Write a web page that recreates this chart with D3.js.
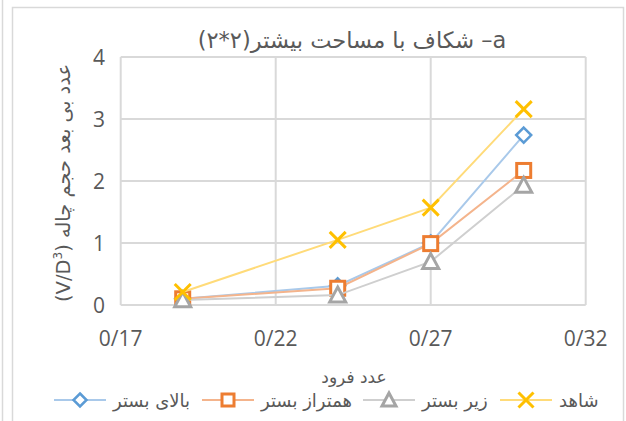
<!DOCTYPE html>
<html>
<head>
<meta charset="utf-8">
<script src="https://cdn.jsdelivr.net/npm/d3@7"></script>
<style>
  body { margin: 0; background: #fff; }
  svg { display: block; }
</style>
</head>
<body>
<script>
"use strict";

// data
var xValues = [0.19, 0.24, 0.27, 0.30];
var balayBastar = [0.10, 0.31, 1.00, 2.74];
var hamtarazBastar = [0.10, 0.27, 0.99, 2.17];
var zirBastar = [0.08, 0.16, 0.70, 1.93];
var shahed = [0.21, 1.05, 1.57, 3.16];

var seriesNames = ["بالای بستر", "همتراز بستر", "زیر بستر", "شاهد"];
var seriesValues = [balayBastar, hamtarazBastar, zirBastar, shahed];
var markerTypes = ["diamond", "square", "triangle", "cross"];
var markerColors = ["#5B9BD5", "#ED7D31", "#A5A5A5", "#FFC000"];
var lineColors = ["#A9C9EA", "#F4B48C", "#CFCFCF", "#FFDB79"];

var xTicks = [0.17, 0.22, 0.27, 0.32];
var yTicks = [0, 1, 2, 3, 4];

var width = 626, height = 421;
var grid = "#D9D9D9";
var textColor = "#595959";

var svg = d3.select("body").append("svg")
	.attr("width", width)
	.attr("height", height);

// chart frame
svg.append("line")
	.attr("x1", 2.5).attr("x2", 2.5)
	.attr("y1", 0).attr("y2", height)
	.attr("stroke", grid).attr("stroke-width", 1.5);
svg.append("rect")
	.attr("x", 12.5).attr("y", 7.5)
	.attr("width", 611).attr("height", height + 20)
	.attr("fill", "none")
	.attr("stroke", grid).attr("stroke-width", 1.5);

var x = d3.scaleLinear().domain([0.17, 0.32]).range([120.7, 585.7]);
var y = d3.scaleLinear().domain([0, 4]).range([305, 57]);

// gridlines
svg.append("g")
	.selectAll("line")
	.data(yTicks)
	.enter().append("line")
	.attr("x1", x(0.17)).attr("x2", x(0.32))
	.attr("y1", function(d) { return y(d); })
	.attr("y2", function(d) { return y(d); })
	.attr("stroke", grid).attr("stroke-width", 2);

svg.append("g")
	.selectAll("line")
	.data(xTicks)
	.enter().append("line")
	.attr("x1", function(d) { return x(d); })
	.attr("x2", function(d) { return x(d); })
	.attr("y1", y(0)).attr("y2", y(4))
	.attr("stroke", grid).attr("stroke-width", 2);

// tick labels
svg.append("g")
	.selectAll("text")
	.data(yTicks)
	.enter().append("text")
	.attr("x", 105)
	.attr("y", function(d) { return y(d) + 7.5; })
	.attr("text-anchor", "end")
	.attr("font-family", "Open Sans")
	.attr("font-size", 21)
	.attr("fill", textColor)
	.text(function(d) { return d; });

svg.append("g")
	.selectAll("text")
	.data(xTicks)
	.enter().append("text")
	.attr("x", function(d) { return x(d); })
	.attr("y", 346)
	.attr("text-anchor", "middle")
	.attr("font-family", "Open Sans")
	.attr("font-size", 21)
	.attr("fill", textColor)
	.text(function(d) { return "0/" + Math.round(d * 100); });

// marker shapes
function drawMarker(g, type, color, size) {
	var h = size / 2;
	if (type === "diamond") {
		g.append("path")
			.attr("d", "M0," + (-h) + "L" + h + ",0L0," + h + "L" + (-h) + ",0Z")
			.attr("fill", "#fff").attr("stroke", color).attr("stroke-width", 2.5);
	} else if (type === "square") {
		g.append("rect")
			.attr("x", -h + 1.5).attr("y", -h + 1.5)
			.attr("width", size - 3).attr("height", size - 3)
			.attr("fill", "#fff").attr("stroke", color).attr("stroke-width", 3);
	} else if (type === "triangle") {
		g.append("path")
			.attr("d", "M0," + (-h) + "L" + (h) + "," + (h * 0.85) + "L" + (-h) + "," + (h * 0.85) + "Z")
			.attr("fill", "#fff").attr("stroke", color).attr("stroke-width", 3)
			.attr("stroke-linejoin", "miter");
	} else {
		g.append("path")
			.attr("d", "M" + (-h) + "," + (-h) + "L" + h + "," + h + "M" + h + "," + (-h) + "L" + (-h) + "," + h)
			.attr("fill", "none").attr("stroke", color).attr("stroke-width", 3);
	}
}

var plotSizes = { diamond: 15, square: 17, triangle: 16, cross: 16 };
var legendSizes = { diamond: 13, square: 15, triangle: 14, cross: 15 };

var line = d3.line()
	.x(function(d) { return x(d[0]); })
	.y(function(d) { return y(d[1]); });

seriesValues.forEach(function(vals, i) {
	var pts = xValues.map(function(xv, j) { return [xv, vals[j]]; });
	svg.append("path")
		.attr("d", line(pts))
		.attr("fill", "none")
		.attr("stroke", lineColors[i])
		.attr("stroke-width", 2);
	pts.forEach(function(p) {
		var g = svg.append("g")
			.attr("transform", "translate(" + x(p[0]) + "," + y(p[1]) + ")");
		drawMarker(g, markerTypes[i], markerColors[i], plotSizes[markerTypes[i]]);
	});
});

// title
svg.append("text")
	.attr("x", 352)
	.attr("y", 48)
	.attr("text-anchor", "middle")
	.attr("direction", "rtl")
	.attr("font-family", "DejaVu Sans")
	.attr("font-size", 22.5)
	.attr("fill", textColor)
	.text("a– شکاف با مساحت بیشتر(۲*۲)");

// y axis title
var yTitle = svg.append("text")
	.attr("transform", "translate(70,183) rotate(-90)")
	.attr("text-anchor", "middle")
	.attr("direction", "rtl")
	.attr("font-family", "DejaVu Sans")
	.attr("font-size", 19.5)
	.attr("fill", textColor);
yTitle.append("tspan").text("عدد بی بعد حجم چاله (V/D");
yTitle.append("tspan").attr("font-size", 12).attr("dy", -8).text("3");
yTitle.append("tspan").attr("dy", 8).text(")");

// x axis title
svg.append("text")
	.attr("x", 354)
	.attr("y", 383)
	.attr("text-anchor", "middle")
	.attr("direction", "rtl")
	.attr("font-family", "DejaVu Sans")
	.attr("font-size", 17)
	.attr("letter-spacing", 1.5)
	.attr("fill", textColor)
	.text("عدد فرود");

// legend
var legendX = [54, 202, 363, 500];
seriesNames.forEach(function(name, i) {
	var lg = svg.append("g").attr("transform", "translate(" + legendX[i] + ",400)");
	lg.append("line")
		.attr("x1", 0).attr("x2", 52)
		.attr("y1", 0).attr("y2", 0)
		.attr("stroke", lineColors[i]).attr("stroke-width", 2);
	var m = lg.append("g").attr("transform", "translate(26,0)");
	drawMarker(m, markerTypes[i], markerColors[i], legendSizes[markerTypes[i]]);
	lg.append("text")
		.attr("x", 59)
		.attr("y", 7)
		.attr("text-anchor", "start")
		.attr("font-family", "DejaVu Sans")
		.attr("font-size", 18)
		.attr("fill", textColor)
		.text(name);
});
</script>
</body>
</html>
